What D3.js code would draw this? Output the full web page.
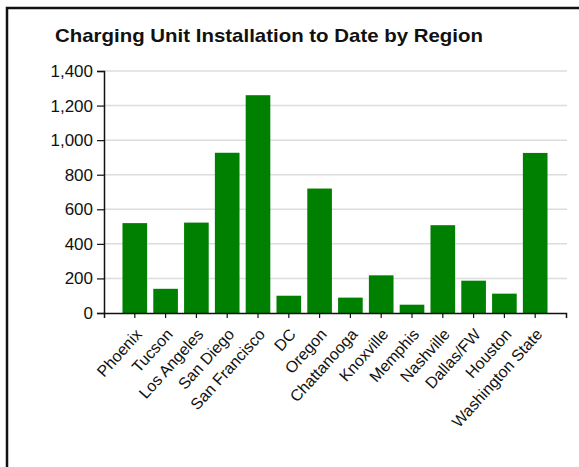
<!DOCTYPE html>
<html>
<head>
<meta charset="utf-8">
<script src="https://cdn.jsdelivr.net/npm/d3@7"></script>
<style>
  html, body { margin: 0; padding: 0; background: #fff; }
  svg { display: block; font-family: Arial, "Liberation Sans", sans-serif; }
</style>
</head>
<body>
<svg id="chart" width="579" height="467"></svg>
<script>
// Charging units installed so far, per region
const regions = ["Phoenix", "Tucson", "Los Angeles", "San Diego", "San Francisco", "DC", "Oregon",
  "Chattanooga", "Knoxville", "Memphis", "Nashville", "Dallas/FW", "Houston", "Washington State"];
const units = [520, 140, 523, 927, 1260, 100, 720, 89, 218, 48, 508, 187, 112, 926];
const yTicks = [0, 200, 400, 600, 800, 1000, 1200, 1400];
const titleText = "Charging Unit Installation to Date by Region";

const svg = d3.select("#chart");
const W = 579, H = 467;
const plot = { left: 104, right: 566, top: 71, bottom: 313 };

// frame (top and left edges)
svg.append("path")
  .attr("d", `M7,${H} V8 H${W}`)
  .attr("fill", "none")
  .attr("stroke", "#111")
  .attr("stroke-width", 2.5);

svg.append("text")
  .attr("x", 269).attr("y", 42)
  .attr("text-anchor", "middle")
  .attr("font-size", 19).attr("font-weight", "bold")
  .attr("textLength", 428).attr("lengthAdjust", "spacingAndGlyphs")
  .attr("fill", "#111")
  .text(titleText);

const x = d3.scaleBand().domain(regions)
  .range([plot.left, plot.right]).paddingInner(0.2).paddingOuter(0.6);
const y = d3.scaleLinear().domain([0, 1400]).range([plot.bottom, plot.top]);

// gridlines
svg.append("g").selectAll("line").data(yTicks.filter(d => d > 0)).join("line")
  .attr("x1", plot.left).attr("x2", plot.right + 1)
  .attr("y1", d => y(d)).attr("y2", d => y(d))
  .attr("stroke", "#dcdcdc").attr("stroke-width", 1.5);

// bars
svg.append("g").selectAll("rect").data(regions).join("rect")
  .attr("x", d => x(d))
  .attr("width", x.bandwidth())
  .attr("y", (d, i) => y(units[i]))
  .attr("height", (d, i) => y(0) - y(units[i]))
  .attr("fill", "#008000");

// y axis
const yAxis = svg.append("g")
  .attr("transform", `translate(${plot.left},0)`)
  .call(d3.axisLeft(y).tickValues(yTicks).tickFormat(d3.format(",")).tickSize(7).tickPadding(4));
yAxis.select(".domain").attr("stroke", "#111").attr("stroke-width", 1.5);
yAxis.selectAll(".tick line").attr("stroke", "#111").attr("stroke-width", 1.2);
yAxis.selectAll("text").attr("font-size", 17).attr("fill", "#111").attr("font-family", null);

// x axis
const xAxis = svg.append("g")
  .attr("transform", `translate(0,${plot.bottom})`)
  .call(d3.axisBottom(x).tickSize(5).tickSizeOuter(5));
xAxis.select(".domain").attr("stroke", "#111").attr("stroke-width", 1.5);
xAxis.selectAll(".tick line").attr("stroke", "#111").attr("stroke-width", 1.2);
xAxis.selectAll("text")
  .attr("font-size", 16).attr("fill", "#111").attr("font-family", null)
  .attr("text-anchor", "end")
  .attr("dy", null)
  .attr("x", 8).attr("y", 22)
  .attr("transform", "rotate(-48, 8, 22)");
</script>
</body>
</html>
